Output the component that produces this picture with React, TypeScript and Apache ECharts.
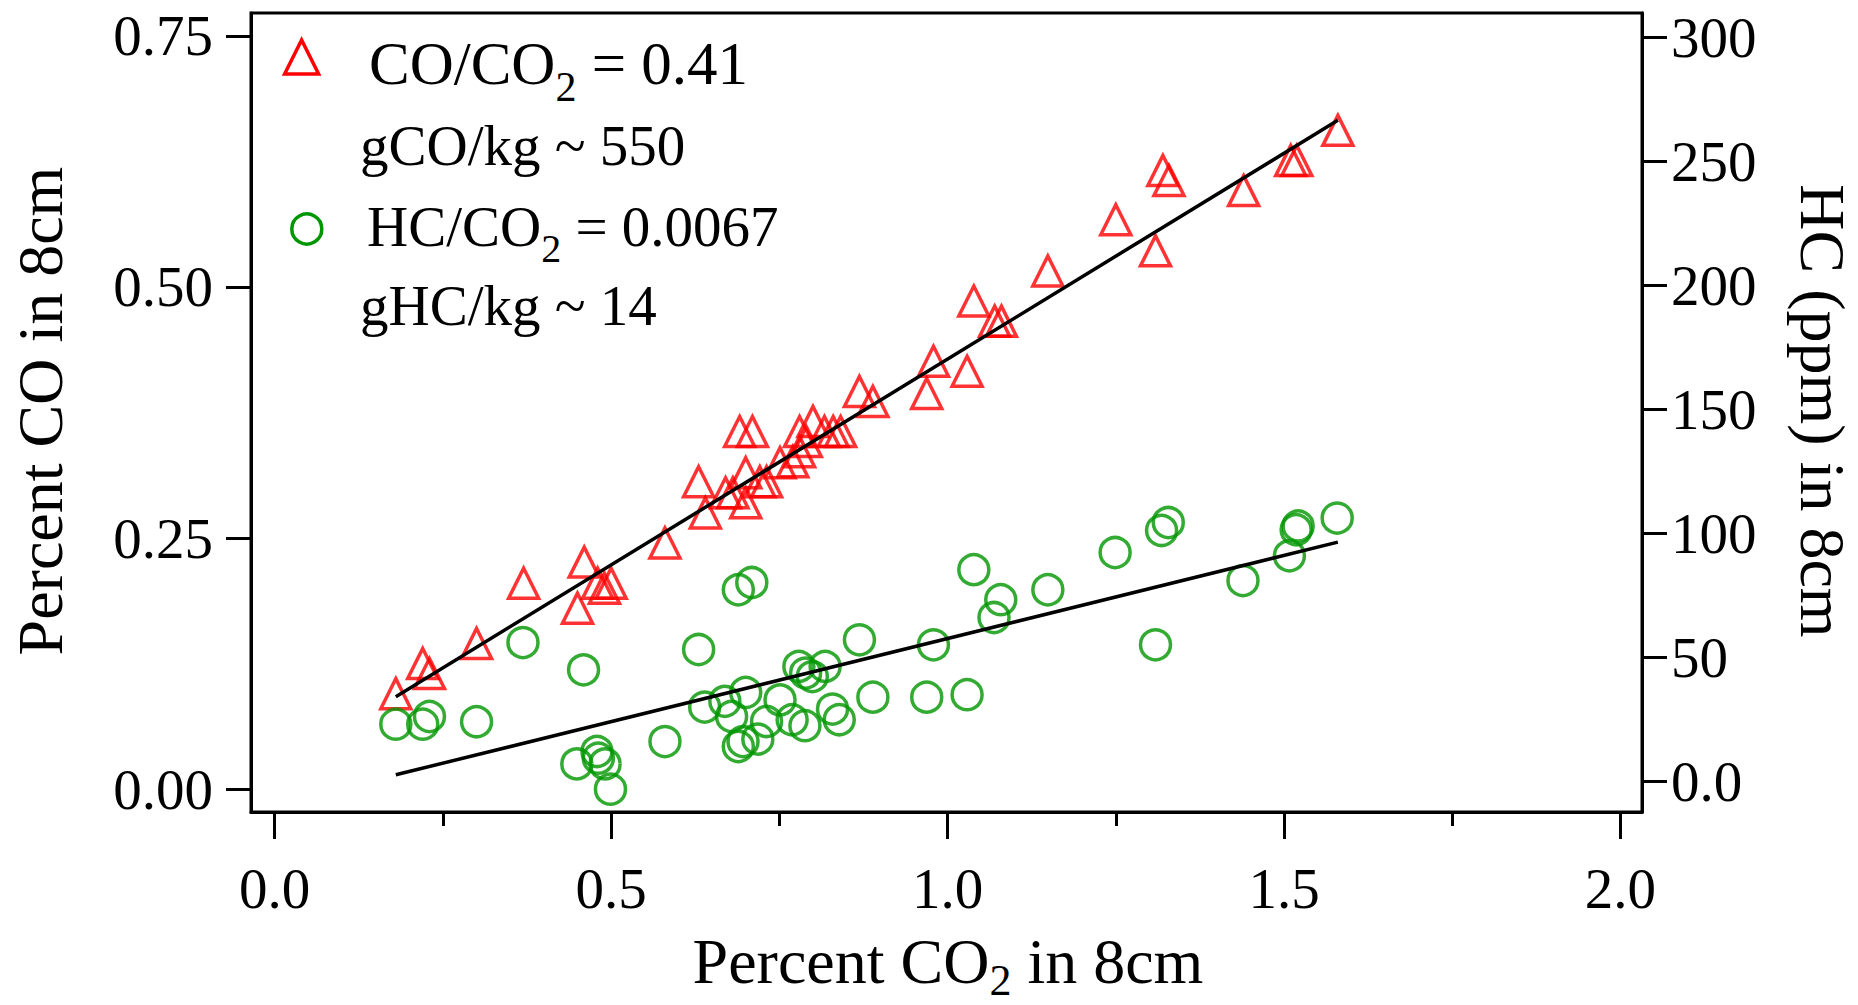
import React, { useEffect, useRef } from "react";
import * as echarts from "echarts";

// ---- Data ----
const coX = [0.18, 0.22, 0.23, 0.3, 0.37, 0.45, 0.46, 0.48, 0.49, 0.5, 0.58, 0.63, 0.64, 0.67, 0.681, 0.691, 0.7, 0.7, 0.71, 0.721, 0.731, 0.751, 0.77, 0.78, 0.78, 0.79, 0.8, 0.817, 0.83, 0.841, 0.869, 0.889, 0.969, 0.979, 1.029, 1.039, 1.07, 1.08, 1.149, 1.25, 1.309, 1.32, 1.329, 1.44, 1.51, 1.519, 1.58];
const coY = [0.095, 0.125, 0.115, 0.145, 0.205, 0.18, 0.226, 0.205, 0.2, 0.205, 0.245, 0.306, 0.275, 0.295, 0.295, 0.356, 0.315, 0.285, 0.356, 0.306, 0.306, 0.325, 0.326, 0.336, 0.356, 0.346, 0.366, 0.356, 0.356, 0.356, 0.396, 0.386, 0.394, 0.426, 0.416, 0.486, 0.466, 0.466, 0.516, 0.567, 0.536, 0.616, 0.606, 0.596, 0.626, 0.626, 0.656];

const hcX = [0.18, 0.22, 0.23, 0.3, 0.369, 0.449, 0.459, 0.479, 0.481, 0.491, 0.499, 0.58, 0.63, 0.639, 0.669, 0.679, 0.689, 0.689, 0.696, 0.7, 0.709, 0.718, 0.731, 0.751, 0.769, 0.779, 0.788, 0.789, 0.799, 0.818, 0.829, 0.839, 0.869, 0.889, 0.969, 0.979, 1.029, 1.039, 1.069, 1.079, 1.149, 1.249, 1.309, 1.318, 1.328, 1.439, 1.508, 1.518, 1.521, 1.579];
const hcY = [23.1, 23.1, 26.2, 24.1, 56.0, 7.1, 45.0, 12.1, 9.4, 7.1, -3.1, 16.1, 53.2, 30.0, 32.3, 26.2, 14.1, 77.3, 16.1, 35.9, 80.2, 17.1, 24.2, 32.9, 24.9, 46.4, 22.5, 43.7, 42.3, 46.4, 29.2, 24.9, 57.1, 34.0, 34.0, 55.1, 35.0, 85.4, 66.1, 73.3, 77.3, 92.3, 55.1, 101.2, 104.4, 81.0, 91.0, 101.5, 103.0, 106.2];

// fit lines (end points)
const fitX = [0.18, 1.58];
const coFitY = [0.092, 0.666];
const hcFitY = [2.7, 96.5];

// tick values
const xMajorTicks = [0, 0.5, 1.0, 1.5, 2.0];
const xMinorTicks = [0.25, 0.75, 1.25, 1.75];
const coTicks = [0, 0.25, 0.5, 0.75];
const hcTicks = [0, 50, 100, 150, 200, 250, 300];

const FONT = "'Liberation Serif', 'Times New Roman', Times, serif";
const RED = "#FF0000";
const GREEN = "#009600";

export default function App() {
  const ref = useRef<HTMLDivElement>(null);

  useEffect(() => {
    document.body.style.margin = "0";
    document.body.style.overflow = "hidden";
    const chart = echarts.init(ref.current!, null, { renderer: "svg" });

    const tickLabel = { fontFamily: FONT, fontSize: 57, color: "#000" };
    const axisLineStyle = { color: "#000", width: 3 };

    const option: any = {
      animation: false,
      backgroundColor: "#fff",
      grid: {
        left: 251,
        right: 216,
        top: 13,
        bottom: 193,
        show: true,
        borderColor: "#000",
        borderWidth: 3,
        backgroundColor: "transparent",
      },
      xAxis: [
        {
          type: "value",
          min: -0.0352,
          max: 2.032,
          position: "bottom",
          axisLine: { show: true, onZero: false, lineStyle: axisLineStyle },
          axisTick: { show: true, customValues: xMajorTicks, length: 27, lineStyle: axisLineStyle },
          axisLabel: {
            show: true,
            customValues: xMajorTicks,
            formatter: (v: number) => v.toFixed(1),
            margin: 48,
            ...tickLabel,
          },
          splitLine: { show: false },
        },
        {
          type: "value",
          min: -0.0352,
          max: 2.032,
          position: "bottom",
          axisLine: { show: false, onZero: false },
          axisTick: { show: true, customValues: xMinorTicks, length: 14, lineStyle: axisLineStyle },
          axisLabel: { show: false },
          splitLine: { show: false },
        },
      ],
      yAxis: [
        {
          type: "value",
          min: -0.0229,
          max: 0.7729,
          position: "left",
          axisLine: { show: true, onZero: false, lineStyle: axisLineStyle },
          axisTick: { show: true, customValues: coTicks, length: 25, lineStyle: axisLineStyle },
          axisLabel: {
            show: true,
            customValues: coTicks,
            formatter: (v: number) => v.toFixed(2),
            margin: 38,
            ...tickLabel,
          },
          splitLine: { show: false },
        },
        {
          type: "value",
          min: -12.3,
          max: 309.8,
          position: "right",
          axisLine: { show: true, onZero: false, lineStyle: axisLineStyle },
          axisTick: { show: true, customValues: hcTicks, length: 25, lineStyle: axisLineStyle },
          axisLabel: {
            show: true,
            customValues: hcTicks,
            formatter: (v: number) => (v === 0 ? "0.0" : String(v)),
            margin: 29,
            ...tickLabel,
          },
          splitLine: { show: false },
        },
      ],
      series: [
        {
          type: "scatter",
          name: "CO",
          xAxisIndex: 0,
          yAxisIndex: 0,
          data: coX.map((x, i) => [x, coY[i]]),
          symbol: "triangle",
          symbolSize: [30, 30],
          itemStyle: { color: "transparent", borderColor: RED, borderWidth: 3.5 },
          emphasis: { disabled: true },
          silent: true,
        },
        {
          type: "scatter",
          name: "HC",
          xAxisIndex: 0,
          yAxisIndex: 1,
          data: hcX.map((x, i) => [x, hcY[i]]),
          symbol: "circle",
          symbolSize: 30,
          itemStyle: { color: "transparent", borderColor: GREEN, borderWidth: 3.5 },
          emphasis: { disabled: true },
          silent: true,
        },
        {
          type: "line",
          xAxisIndex: 0,
          yAxisIndex: 0,
          data: fitX.map((x, i) => [x, coFitY[i]]),
          symbol: "none",
          lineStyle: { color: "#000", width: 3.5 },
          silent: true,
          z: 5,
        },
        {
          type: "line",
          xAxisIndex: 0,
          yAxisIndex: 1,
          data: fitX.map((x, i) => [x, hcFitY[i]]),
          symbol: "none",
          lineStyle: { color: "#000", width: 3.5 },
          silent: true,
          z: 5,
        },
      ],
      graphic: [
        {
          type: "text",
          x: 40,
          y: 411,
          rotation: Math.PI / 2,
          style: {
            text: "Percent CO in 8cm",
            fontFamily: FONT,
            fontSize: 64,
            fill: "#000",
            align: "center",
            verticalAlign: "middle",
          },
        },
        {
          type: "text",
          x: 1822,
          y: 411,
          rotation: -Math.PI / 2,
          style: {
            text: "HC (ppm) in 8cm",
            fontFamily: FONT,
            fontSize: 64,
            fill: "#000",
            align: "center",
            verticalAlign: "middle",
          },
        },
        {
          type: "text",
          x: 948,
          y: 961,
          style: {
            text: "{m|Percent CO}{s|2}{m| in 8cm}",
            align: "center",
            verticalAlign: "middle",
            rich: {
              m: { fontFamily: FONT, fontSize: 64, fill: "#000" },
              s: { fontFamily: FONT, fontSize: 44, fill: "#000", lineHeight: 82, verticalAlign: "bottom" },
            },
          },
        },
        {
          type: "polygon",
          shape: { points: [[301.6, 40], [284.6, 74], [318.6, 74]] },
          style: { fill: "none", stroke: RED, lineWidth: 3.5 },
        },
        {
          type: "circle",
          shape: { cx: 306.8, cy: 229, r: 15 },
          style: { fill: "none", stroke: GREEN, lineWidth: 3.5 },
        },
        {
          type: "text",
          x: 369,
          y: 63,
          style: {
            text: "{m|CO/CO}{s|2}{m| = 0.41}",
            align: "left",
            verticalAlign: "middle",
            rich: {
              m: { fontFamily: FONT, fontSize: 61, fill: "#000" },
              s: { fontFamily: FONT, fontSize: 42, fill: "#000", lineHeight: 89, verticalAlign: "bottom" },
            },
          },
        },
        {
          type: "text",
          x: 360,
          y: 145,
          style: {
            text: "gCO/kg ~ 550",
            fontFamily: FONT,
            fontSize: 57,
            fill: "#000",
            align: "left",
            verticalAlign: "middle",
          },
        },
        {
          type: "text",
          x: 367,
          y: 226,
          style: {
            text: "{m|HC/CO}{s|2}{m| = 0.0067}",
            align: "left",
            verticalAlign: "middle",
            rich: {
              m: { fontFamily: FONT, fontSize: 57, fill: "#000" },
              s: { fontFamily: FONT, fontSize: 40, fill: "#000", lineHeight: 85, verticalAlign: "bottom" },
            },
          },
        },
        {
          type: "text",
          x: 360,
          y: 305,
          style: {
            text: "gHC/kg ~ 14",
            fontFamily: FONT,
            fontSize: 57,
            fill: "#000",
            align: "left",
            verticalAlign: "middle",
          },
        },
      ],
    };

    chart.setOption(option);
    return () => chart.dispose();
  }, []);

  return <div ref={ref} style={{ width: 1858, height: 1005 }} />;
}
